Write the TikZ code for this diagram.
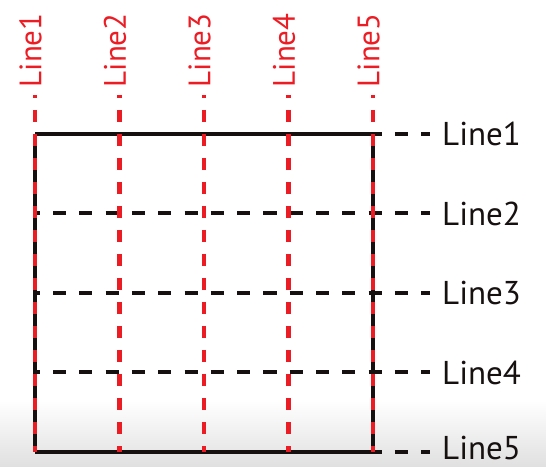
\documentclass[tikz,border=0pt]{standalone}
\usepackage{fontspec}
\setmainfont{PT Sans}
\usepackage{xcolor}
\definecolor{linered}{RGB}{236,28,36}
\definecolor{lineblack}{RGB}{22,16,16}

\begin{document}
\begin{tikzpicture}[x=1pt,y=1pt,
    toplabel/.style={text=linered,rotate=90,anchor=west,inner sep=0pt,font=\fontsize{31}{31}\selectfont},
    sidelabel/.style={text=lineblack,anchor=west,inner sep=0pt,font=\fontsize{33}{33}\selectfont},
    rowline/.style={lineblack,line width=4pt},
    colline/.style={linered,line width=4.5pt,dash pattern=on 12pt off 12pt,dash phase=9pt}]

    \useasboundingbox (0,0) rectangle (546,466);
    \shade[top color=white,bottom color=black!12] (0,0) rectangle (546,66);
          % Light shadow at the foot of the picture.

    \foreach \j in {0,...,4}{% Dashed rows, running out to the labels
      \draw[rowline,dash pattern=on 13.15pt off 13.15pt,dash phase=8.3pt]
        (35,{332-79.5*\j}) -- (430,{332-79.5*\j});
    }
    \draw[rowline] (35,332) -- (373,332);   % top edge
    \draw[rowline] (35,14) -- (373,14);     % bottom edge
    \draw[rowline] (35,332) -- (35,14);     % left edge
    \draw[rowline] (373,332) -- (373,14);   % right edge

    \foreach \i in {0,...,4}{% Red columns over everything
      \draw[colline] ({35+84.5*\i},371) -- ({35+84.5*\i},14);
    }

    \foreach \i in {1,...,5}{%
      \node[toplabel] (top\i) at ({30.5+84.5*(\i-1)},378.5) {Line\i};
    }
    \foreach \i in {1,...,4}{%
      \node[sidelabel] (side\i) at (442,{332-79.5*(\i-1)}) {Line\i};
    }
    \node[sidelabel] (side5) at (442,18) {Line5};
          % sits a little higher, clear of the foot

\end{tikzpicture}
\end{document}
